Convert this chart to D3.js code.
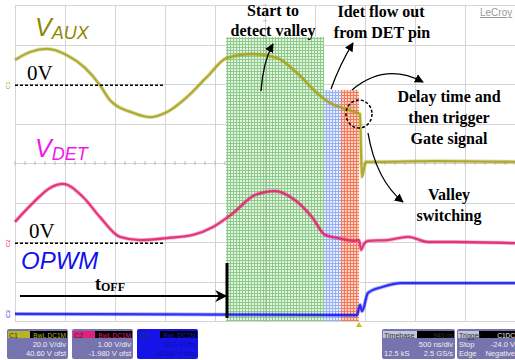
<!DOCTYPE html>
<html>
 <head>
    <title>Valley switching waveform</title>
    <script src="https://d3js.org/d3.v7.min.js"></script>
    <style>
      body { margin: 0; background: #fff; }
      svg { display: block; }
    </style>
 </head>
 <body>
    <div id="scope"></div>
    <script>
      // traces: [time in ns, screen divisions from the bottom]
      var vaux = [[0, 6.61], [150, 6.81], [320, 6.89], [520, 6.73], [700, 6.41], [850, 5.97],
        [950, 5.59], [1180, 5.27], [1350, 5.16], [1520, 5.29], [1720, 5.67], [1920, 6.18],
        [2120, 6.66], [2380, 6.76], [2620, 6.66], [2820, 6.28], [3020, 5.77], [3150, 5.52],
        [3280, 5.39], [3420, 5.27], [3450, 5.24], [3460, 4.33], [3470, 3.65], [3490, 3.87],
        [3510, 4.03], [3650, 4.03], [4200, 4.05], [5000, 4.03]];
      var vdet = [[0, 2.51], [180, 2.99], [350, 3.37], [480, 3.47], [680, 3.14], [850, 2.63],
        [1050, 2.13], [1250, 2.05], [1520, 2.10], [1780, 2.18], [1980, 2.38], [2180, 2.73],
        [2400, 3.19], [2600, 3.29], [2800, 3.06], [2970, 2.63], [3100, 2.18], [3230, 2.10],
        [3400, 2.03], [3440, 2.05], [3460, 1.80], [3490, 1.95], [3530, 2.03], [3730, 2.05],
        [3930, 2.13], [4130, 2.00], [4400, 2.00], [5000, 1.97]];
      var opwm = [[0, 0.18], [1500, 0.17], [3420, 0.15], [3450, 0.41], [3470, 0.25], [3530, 0.71],
        [3670, 0.86], [3870, 0.96], [4130, 0.96], [5000, 0.96]];

      // shaded phases: [start ns, end ns, top div]
      var phases = [
        { name: "green", t0: 2110, t1: 3090, top: 7.19 },
        { name: "blue", t0: 3090, t1: 3260, top: 5.85 },
        { name: "red", t0: 3260, t1: 3440, top: 5.85 }
      ];

      // zero levels of the two analog channels (divisions) and dashed line end (ns)
      var zeroAux = 5.97;
      var zeroDet = 1.97;
      var zeroEnd = 1480;

      // toff marker
      var toffStart = 50;
      var toffEnd = 2120;
      var toffLevel = 0.63;

      var width = 515;
      var height = 360;

      var x = d3.scaleLinear().domain([0, 5000]).range([15, 515]);
      var y = d3.scaleLinear().domain([0, 8]).range([321, 5]);

      var svg = d3.select("#scope")
        .append("svg")
        .attr("width", width)
        .attr("height", height);

      var defs = svg.append("defs");

      // fine hatch patterns for the phases
      var hatch = {
        green: { bg: "#e4f3e2", line: "#8ccb8a" },
        blue: { bg: "#e8edfc", line: "#98b0f4" },
        red: { bg: "#fcd4c6", line: "#f4785a" }
      };
      Object.keys(hatch).forEach(function (k) {
        var p = defs.append("pattern")
          .attr("id", "hatch-" + k)
          .attr("width", 3).attr("height", 3)
          .attr("patternUnits", "userSpaceOnUse");
        p.append("rect").attr("width", 3).attr("height", 3).attr("fill", hatch[k].bg);
        p.append("rect").attr("x", 2).attr("width", 1).attr("height", 3).attr("fill", hatch[k].line);
        p.append("rect").attr("y", 2).attr("width", 3).attr("height", 1).attr("fill", hatch[k].line);
      });

      defs.append("marker")
        .attr("id", "arrow")
        .attr("viewBox", "0 0 10 10")
        .attr("refX", 9).attr("refY", 5)
        .attr("markerWidth", 9).attr("markerHeight", 9)
        .attr("markerUnits", "userSpaceOnUse")
        .attr("orient", "auto")
        .append("path")
        .attr("d", "M0,0 L10,5 L0,10 z")
        .attr("fill", "#000");

      defs.append("marker")
        .attr("id", "arrow-big")
        .attr("viewBox", "0 0 10 10")
        .attr("refX", 9).attr("refY", 5)
        .attr("markerWidth", 14).attr("markerHeight", 12)
        .attr("markerUnits", "userSpaceOnUse")
        .attr("orient", "auto")
        .append("path")
        .attr("d", "M0,0 L10,5 L0,10 L3,5 z")
        .attr("fill", "#000");

      // grid
      var grid = svg.append("g").attr("stroke", "#d4d4d4").attr("stroke-width", 1);
      grid.selectAll(".vx")
        .data(d3.range(0, 5001, 500))
        .enter().append("line")
        .attr("x1", function (d) { return x(d) + 0.5; })
        .attr("x2", function (d) { return x(d) + 0.5; })
        .attr("y1", y(8)).attr("y2", y(0));
      grid.selectAll(".hy")
        .data(d3.range(0, 9))
        .enter().append("line")
        .attr("x1", x(0)).attr("x2", x(5000))
        .attr("y1", function (d) { return Math.round(y(d)) + 0.5; })
        .attr("y2", function (d) { return Math.round(y(d)) + 0.5; });

      // minor ticks on the centre lines
      grid.selectAll(".mx")
        .data(d3.range(0, 5001, 100))
        .enter().append("line")
        .attr("x1", function (d) { return x(d); })
        .attr("x2", function (d) { return x(d); })
        .attr("y1", y(4) - 2).attr("y2", y(4) + 2)
        .attr("stroke", "#bbb");
      grid.selectAll(".my")
        .data(d3.range(0, 8.01, 0.2))
        .enter().append("line")
        .attr("x1", x(2500) - 2).attr("x2", x(2500) + 2)
        .attr("y1", function (d) { return y(d); })
        .attr("y2", function (d) { return y(d); })
        .attr("stroke", "#bbb");

      // shaded phases
      svg.selectAll(".phase")
        .data(phases)
        .enter().append("rect")
        .attr("class", "phase")
        .attr("x", function (d) { return x(d.t0); })
        .attr("width", function (d) { return x(d.t1) - x(d.t0); })
        .attr("y", function (d) { return y(d.top); })
        .attr("height", function (d) { return y(0) - y(d.top); })
        .attr("fill", function (d) { return "url(#hatch-" + d.name + ")"; });

      // centre grid line again on top of the shading
      svg.append("line")
        .attr("x1", x(2500) + 0.5).attr("x2", x(2500) + 0.5)
        .attr("y1", y(7.19)).attr("y2", y(0))
        .attr("stroke", "#9fb89f").attr("stroke-opacity", 0.6);

      // traces
      var line = d3.line()
        .x(function (d) { return x(d[0]); })
        .y(function (d) { return y(d[1]); })
        .curve(d3.curveMonotoneX);

      var traces = [
        { data: vaux, color: "#a6a21a" },
        { data: vdet, color: "#e2206e" },
        { data: opwm, color: "#1818f4" }
      ];
      traces.forEach(function (t) {
        svg.append("path")
          .attr("d", line(t.data))
          .attr("fill", "none")
          .attr("stroke", t.color)
          .attr("stroke-width", 4)
          .attr("stroke-opacity", 0.3);
        svg.append("path")
          .attr("d", line(t.data))
          .attr("fill", "none")
          .attr("stroke", t.color)
          .attr("stroke-width", 2.3)
          .attr("stroke-opacity", 0.85);
      });

      // zero lines
      [zeroAux, zeroDet].forEach(function (z) {
        svg.append("line")
          .attr("x1", x(0)).attr("x2", x(zeroEnd))
          .attr("y1", y(z)).attr("y2", y(z))
          .attr("stroke", "#000")
          .attr("stroke-width", 1.6)
          .attr("stroke-dasharray", "3,2");
      });

      // channel markers at the left edge
      var markers = [
        { label: "C1", v: zeroAux, color: "#a6a21a" },
        { label: "C2", v: zeroDet, color: "#e2206e" },
        { label: "C3", v: 0.18, color: "#1818f4" }
      ];
      markers.forEach(function (m) {
        svg.append("text")
          .attr("transform", "translate(10," + y(m.v) + ") rotate(-90)")
          .attr("text-anchor", "middle")
          .attr("font-family", "Liberation Sans, Arial, sans-serif")
          .attr("font-size", 6)
          .attr("fill", m.color)
          .text(m.label);
      });

      // trigger marker
      svg.append("path")
        .attr("d", "M" + x(3440) + "," + 322 + " l-3,5 l6,0 z")
        .attr("fill", "#c8c020");

      // channel names
      function channelName(tx, ty, main, sub, color, size) {
        var t = svg.append("text")
          .attr("x", tx).attr("y", ty)
          .attr("font-family", "Liberation Sans, Arial, sans-serif")
          .attr("font-style", "italic")
          .attr("font-size", size)
          .attr("fill", color);
        t.append("tspan").text(main);
        if (sub) {
          t.append("tspan").attr("font-size", 18).attr("dy", 3).text(sub);
        }
      }
      channelName(35, 36, "V", "AUX", "#8c8a06", 25);
      channelName(35, 157, "V", "DET", "#f018e8", 25);
      channelName(21, 269, "OPWM", null, "#1010f0", 24);

      var serif = "Liberation Serif, Times New Roman, serif";

      svg.append("text").attr("x", 27).attr("y", 80)
        .attr("font-family", serif).attr("font-size", 21).text("0V");
      svg.append("text").attr("x", 29).attr("y", 238)
        .attr("font-family", serif).attr("font-size", 21).text("0V");

      // toff arrow
      svg.append("line")
        .attr("x1", x(toffStart)).attr("x2", x(toffEnd) - 1)
        .attr("y1", y(toffLevel)).attr("y2", y(toffLevel))
        .attr("stroke", "#000").attr("stroke-width", 2)
        .attr("marker-end", "url(#arrow-big)");
      svg.append("line")
        .attr("x1", x(toffEnd)).attr("x2", x(toffEnd))
        .attr("y1", 263).attr("y2", 318)
        .attr("stroke", "#000").attr("stroke-width", 3);
      var toff = svg.append("text").attr("x", 95).attr("y", 290)
        .attr("font-family", serif).attr("font-weight", "bold").attr("font-size", 18);
      toff.append("tspan").text("t");
      toff.append("tspan").attr("font-size", 12).attr("dy", 1).text("OFF");

      // annotations
      var notes = [
        { x: 273, y: 16, text: "Start to" },
        { x: 273, y: 36, text: "detect valley" },
        { x: 381, y: 17, text: "Idet flow out" },
        { x: 382, y: 38, text: "from DET pin" },
        { x: 449, y: 102, text: "Delay time and" },
        { x: 449, y: 123, text: "then trigger" },
        { x: 449, y: 144, text: "Gate signal" },
        { x: 449, y: 200, text: "Valley" },
        { x: 449, y: 221, text: "switching" }
      ];
      svg.selectAll(".note")
        .data(notes)
        .enter().append("text")
        .attr("class", "note")
        .attr("x", function (d) { return d.x; })
        .attr("y", function (d) { return d.y; })
        .attr("text-anchor", "middle")
        .attr("font-family", serif)
        .attr("font-weight", "bold")
        .attr("font-size", 16)
        .text(function (d) { return d.text; });

      // pointer arrows
      var arrows = [
        "M261,91 Q263,62 273,44",
        "M331,89 Q340,64 353,43",
        "M352,90 Q385,62 423,82",
        "M368,133 Q376,180 403,202"
      ];
      svg.selectAll(".pointer")
        .data(arrows)
        .enter().append("path")
        .attr("d", function (d) { return d; })
        .attr("fill", "none")
        .attr("stroke", "#000")
        .attr("stroke-width", 1.3)
        .attr("marker-end", "url(#arrow)");

      svg.append("ellipse")
        .attr("cx", 359).attr("cy", 114)
        .attr("rx", 13).attr("ry", 14)
        .attr("fill", "none")
        .attr("stroke", "#000")
        .attr("stroke-width", 1.5)
        .attr("stroke-dasharray", "3,2");

      // LeCroy logo
      svg.append("text")
        .attr("x", 480).attr("y", 16)
        .attr("font-family", "Liberation Sans, Arial, sans-serif")
        .attr("font-size", 10)
        .attr("fill", "#999")
        .attr("text-decoration", "underline")
        .text("LeCroy");

      // info boxes at the bottom
      var sans = "Liberation Sans, Arial, sans-serif";
      function infoBox(bx, bw, fill, head, tag, tagColor, headFill, lines) {
        var g = svg.append("g");
        g.append("rect").attr("x", bx).attr("y", 329).attr("width", bw).attr("height", 30)
          .attr("rx", 2).attr("fill", fill);
        g.append("rect").attr("x", bx + 1).attr("y", 331).attr("width", bw - 2).attr("height", 7)
          .attr("fill", headFill);
        g.append("rect").attr("x", bx + bw - 38).attr("y", 331).attr("width", 37).attr("height", 7)
          .attr("fill", "#000");
        g.append("text").attr("x", bx + 2).attr("y", 337.5)
          .attr("font-family", sans).attr("font-size", 7).attr("fill", "#333").text(head);
        g.append("text").attr("x", bx + bw - 2).attr("y", 337.5).attr("text-anchor", "end")
          .attr("font-family", sans).attr("font-size", 6.5).attr("fill", tagColor).text(tag);
        lines.forEach(function (l, i) {
          g.append("text").attr("x", bx + bw - 2).attr("y", 347 + i * 9).attr("text-anchor", "end")
            .attr("font-family", sans).attr("font-size", 7.5).attr("fill", l.color || "#eee")
            .text(l.text);
          if (l.left) {
            g.append("text").attr("x", bx + 2).attr("y", 347 + i * 9)
              .attr("font-family", sans).attr("font-size", 7.5).attr("fill", "#eee").text(l.left);
          }
        });
      }
      infoBox(7, 61, "#7674ae", "C1", "BwL DC1M", "#b8b420", "#b8b420",
        [{ text: "20.0 V/div" }, { text: "40.60 V ofst" }]);
      infoBox(72, 61, "#7674ae", "C2", "BwL DC1M", "#e0207a", "#e0207a",
        [{ text: "1.00 V/div" }, { text: "-1.980 V ofst" }]);
      infoBox(137, 61, "#1414e8", "C3", "BwL DC1M", "#1414e8", "#1414e8",
        [{ text: "10.0 V/div", color: "#1010a0" }, { text: "30.00 V ofst", color: "#1010a0" }]);
      infoBox(382, 73, "#7674ae", "Timebase", "940 ns", "#333", "#c4c4dc",
        [{ text: "500 ns/div" }, { text: "2.5 GS/s", left: "12.5 kS" }]);
      infoBox(457, 60, "#7674ae", "Trigger", "C1DC", "#eee", "#c4c4dc",
        [{ text: "-24.0 V", left: "Stop" }, { text: "Negative", left: "Edge" }]);
    </script>
 </body>
</html>
